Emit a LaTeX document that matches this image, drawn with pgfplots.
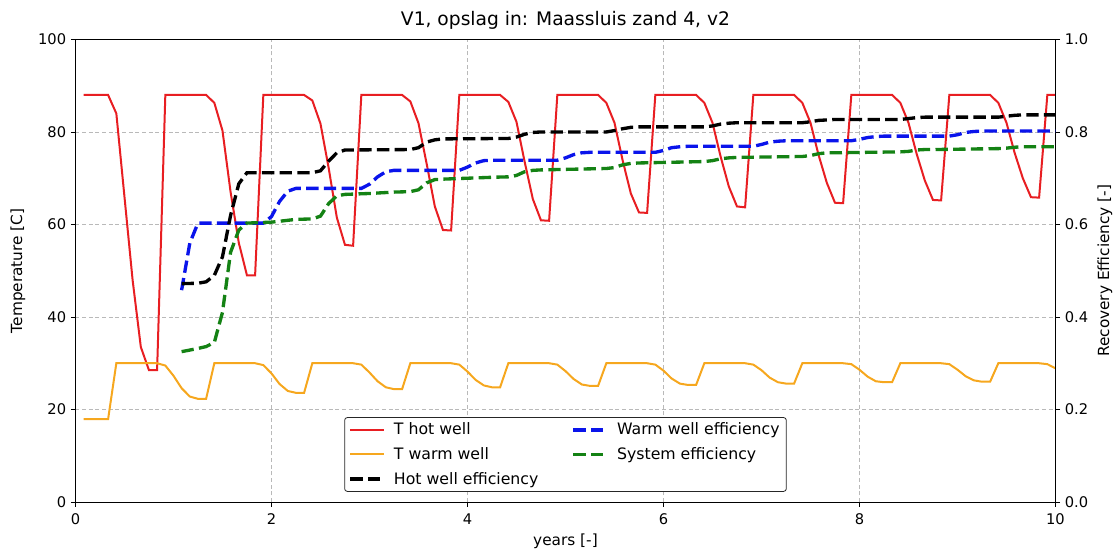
\documentclass[border=0pt]{standalone}
\usepackage{fontspec}
\setmainfont{DejaVu Sans}
\usepackage{pgfplots}
\pgfplotsset{compat=1.18}
\definecolor{cred}{RGB}{232,30,34}
\definecolor{corange}{RGB}{246,167,30}
\definecolor{cblue}{RGB}{10,20,235}
\definecolor{cgreen}{RGB}{20,130,20}
\begin{document}
\begin{tikzpicture}
\pgfplotsset{
  base/.style={
    scale only axis, width=735pt, height=346.9pt,
    xmin=0, xmax=10,
    tick align=outside, major tick length=3.5pt,
    tick style={black, line width=0.6pt},
    axis line style={black, line width=0.7pt},
    /pgf/number format/assume math mode=true,
    ticklabel style={font=\fontsize{11}{13}\selectfont},
    label style={font=\fontsize{11.5}{14}\selectfont},
  }
}
\begin{axis}[base,
  ymin=0, ymax=100,
  xtick={0,2,4,6,8,10}, ytick={0,20,40,60,80,100},
  xtick pos=left, ytick pos=left,
  xticklabel style={yshift=-2pt},
  grid=major,
  major grid style={gray!55, line width=0.5pt, dash pattern=on 3pt off 2pt},
  xlabel={years [-]},
  ylabel={Temperature [C]},
  xlabel style={at={(axis description cs:0.5,0)}, anchor=center, yshift=-29.3pt},
  ylabel style={at={(axis description cs:-0.0587,0.5)}, anchor=center},
  title={V1, opslag in: Maassluis zand 4, v2},
  title style={at={(axis description cs:0.5,1)}, anchor=center, yshift=8.6pt, font=\fontsize{14}{17}\selectfont},
]
\addplot[cred, line width=1.5pt] coordinates {
(0.083,88)(0.333,88)(0.417,84)(0.5,66)(0.583,48)(0.667,33.5)(0.75,28.5)(0.833,28.5)
(0.917,88)(1.333,88)(1.417,86.3)(1.5,80.3)(1.583,67)(1.667,56)(1.75,49)(1.833,49)
(1.917,88)(2.333,88)(2.417,86.8)(2.5,81.8)(2.583,72.3)(2.667,61.5)(2.75,55.6)(2.833,55.4)
(2.917,88)(3.333,88)(3.417,86.6)(3.5,81.9)(3.583,73.2)(3.667,63.9)(3.75,58.8)(3.833,58.7)
(3.917,88)(4.333,88)(4.417,86.5)(4.5,82.2)(4.583,73.6)(4.667,65.5)(4.75,60.9)(4.833,60.8)
(4.917,88)(5.333,88)(5.417,86.3)(5.5,82)(5.583,73.9)(5.667,66.7)(5.75,62.6)(5.833,62.5)
(5.917,88)(6.333,88)(6.417,86.3)(6.5,82)(6.583,74.7)(6.667,68.2)(6.75,63.9)(6.833,63.7)
(6.917,88)(7.333,88)(7.417,86.3)(7.5,82)(7.583,75)(7.667,69)(7.75,64.7)(7.833,64.6)
(7.917,88)(8.333,88)(8.417,86.3)(8.5,82)(8.583,75.3)(8.667,69.5)(8.75,65.3)(8.833,65.2)
(8.917,88)(9.333,88)(9.417,86.3)(9.5,82)(9.583,75.5)(9.667,70)(9.75,65.9)(9.833,65.8)
(9.917,88)(10,88)
};
\addplot[corange, line width=1.5pt] coordinates {
(0.083,17.9)(0.333,17.9)(0.417,30)(0.833,30)
(0.917,29.5)(1,27.3)(1.083,24.6)(1.167,22.8)(1.25,22.3)(1.333,22.3)(1.417,30)(1.833,30)
(1.917,29.6)(2,27.8)(2.083,25.5)(2.167,24)(2.25,23.6)(2.333,23.6)(2.417,30)(2.833,30)
(2.917,29.7)(3,28)(3.083,26.1)(3.167,24.8)(3.25,24.4)(3.333,24.4)(3.417,30)(3.833,30)
(3.917,29.7)(4,28.2)(4.083,26.4)(4.167,25.2)(4.25,24.8)(4.333,24.8)(4.417,30)(4.833,30)
(4.917,29.7)(5,28.3)(5.083,26.6)(5.167,25.4)(5.25,25.1)(5.333,25.1)(5.417,30)(5.833,30)
(5.917,29.7)(6,28.4)(6.083,26.7)(6.167,25.6)(6.25,25.3)(6.333,25.3)(6.417,30)(6.833,30)
(6.917,29.7)(7,28.5)(7.083,26.9)(7.167,25.9)(7.25,25.6)(7.333,25.6)(7.417,30)(7.833,30)
(7.917,29.8)(8,28.6)(8.083,27.1)(8.167,26.1)(8.25,25.9)(8.333,25.9)(8.417,30)(8.833,30)
(8.917,29.8)(9,28.6)(9.083,27.2)(9.167,26.3)(9.25,26)(9.333,26)(9.417,30)(9.833,30)
(9.917,29.8)(10,28.9)
};
\end{axis}
\begin{axis}[base,
  ymin=0, ymax=1,
  axis x line=none, axis y line*=right,
  ytick={0,0.2,0.4,0.6,0.8,1},
  yticklabel style={/pgf/number format/.cd, fixed, fixed zerofill, precision=1},
  ylabel={Recovery Efficiency [-]},
  ylabel style={at={(axis description cs:1.0505,0.5)}, anchor=center},
  legend columns=2,
  legend cell align=left,
  legend image code/.code={\draw[#1] (0pt,0pt) -- (25pt,0pt);},
  legend style={at={(0.5,0.022)}, anchor=south, draw=black!85, fill=white,
    rounded corners=2pt, line width=0.6pt,
    font=\fontsize{11.8}{14}\selectfont,
    row sep=4pt,
    /tikz/every odd column/.append style={column sep=4.5pt},
    /tikz/every even column/.append style={column sep=23pt}},
  dashed line/.style={line width=2.5pt, dash pattern=on 9.25pt off 4pt},
]
\addlegendimage{cred, line width=1.5pt}
\addlegendentry{T hot well}
\addplot[cblue, dashed line] coordinates {
(1.083,0.458)(1.167,0.56)(1.25,0.603)(1.917,0.603)
(2,0.617)(2.083,0.65)(2.167,0.672)(2.25,0.678)(2.917,0.678)
(3,0.687)(3.083,0.703)(3.167,0.714)(3.25,0.717)(3.917,0.717)
(4,0.724)(4.083,0.733)(4.167,0.738)(4.25,0.739)(4.917,0.739)
(5,0.744)(5.083,0.751)(5.167,0.755)(5.25,0.756)(5.917,0.756)
(6,0.76)(6.083,0.766)(6.167,0.768)(6.25,0.769)(6.917,0.769)
(7,0.773)(7.083,0.778)(7.167,0.78)(7.25,0.781)(7.917,0.781)
(8,0.784)(8.083,0.788)(8.167,0.79)(8.25,0.791)(8.917,0.791)
(9,0.794)(9.083,0.799)(9.167,0.801)(9.25,0.802)(10,0.802)
};
\addlegendentry{Warm well efficiency}
\addlegendimage{corange, line width=1.5pt}
\addlegendentry{T warm well}
\addplot[cgreen, dashed line] coordinates {
(1.083,0.325)(1.25,0.332)(1.333,0.336)(1.417,0.345)(1.5,0.41)(1.583,0.54)(1.667,0.588)(1.75,0.603)
(2,0.605)(2.25,0.611)(2.417,0.612)(2.5,0.618)(2.583,0.645)(2.667,0.662)(2.75,0.665)
(3,0.667)(3.25,0.67)(3.417,0.671)(3.5,0.675)(3.583,0.69)(3.667,0.697)(3.75,0.698)
(4,0.7)(4.25,0.702)(4.417,0.703)(4.5,0.706)(4.583,0.714)(4.667,0.717)(4.75,0.718)
(5.417,0.721)(5.5,0.723)(5.583,0.729)(5.667,0.732)(5.75,0.733)
(6.417,0.736)(6.5,0.738)(6.583,0.742)(6.667,0.744)(6.75,0.745)
(7.417,0.747)(7.5,0.749)(7.583,0.753)(7.667,0.755)(7.75,0.755)
(8.417,0.757)(8.5,0.758)(8.583,0.761)(8.667,0.762)(8.75,0.762)
(9.417,0.764)(9.5,0.765)(9.583,0.767)(9.667,0.768)(9.75,0.768)(10,0.768)
};
\addlegendentry{System efficiency}
\addplot[black, dashed line] coordinates {
(1.083,0.472)(1.25,0.473)(1.333,0.476)(1.417,0.49)(1.5,0.53)(1.583,0.62)(1.667,0.688)(1.75,0.712)
(2.417,0.712)(2.5,0.716)(2.583,0.737)(2.667,0.755)(2.75,0.761)
(3.417,0.762)(3.5,0.766)(3.583,0.778)(3.667,0.783)(3.75,0.785)
(4.417,0.786)(4.5,0.789)(4.583,0.795)(4.667,0.799)(4.75,0.8)
(5.417,0.8)(5.5,0.803)(5.583,0.807)(5.667,0.81)(5.75,0.811)
(6.417,0.811)(6.5,0.813)(6.583,0.817)(6.667,0.819)(6.75,0.82)
(7.417,0.82)(7.5,0.822)(7.583,0.825)(7.667,0.826)(7.75,0.827)
(8.417,0.827)(8.5,0.829)(8.583,0.831)(8.667,0.832)(8.75,0.832)
(9.417,0.832)(9.5,0.834)(9.583,0.836)(9.667,0.837)(9.75,0.837)(10,0.837)
};
\addlegendentry{Hot well efficiency}
\end{axis}
\pgfresetboundingbox
\path (-56.6pt,-37.5pt) rectangle (781.9pt,376.5pt);
\end{tikzpicture}
\end{document}
